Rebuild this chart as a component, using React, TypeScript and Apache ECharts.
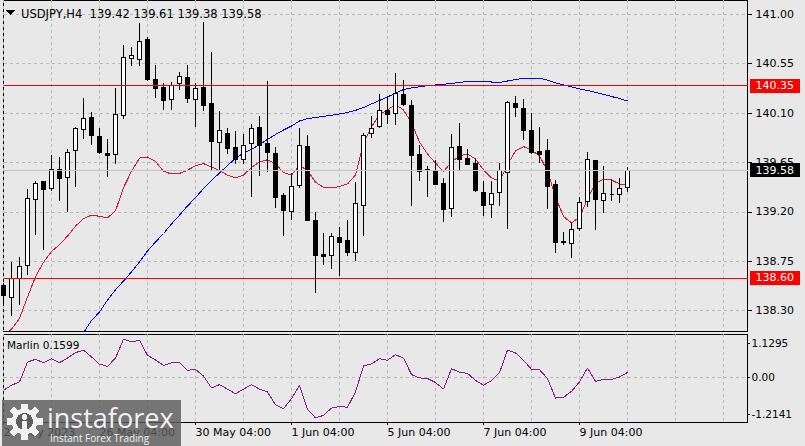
import React, { useEffect, useRef } from "react";
import * as echarts from "echarts";

const FONT = "DejaVu Sans";

const headerText = "USDJPY,H4  139.42 139.61 139.38 139.58";
const indicatorText = "Marlin 0.1599";

// [open, close, low, high]
const candles: number[][] = [
  [138.525, 138.44, 138.37, 138.55],
  [138.42, 138.595, 138.25, 138.746],
  [138.589, 138.7, 138.35, 138.79],
  [138.716, 139.324, 138.625, 139.406],
  [139.315, 139.46, 138.99, 139.484],
  [139.473, 139.406, 138.853, 139.484],
  [139.415, 139.588, 139.393, 139.718],
  [139.582, 139.502, 139.3, 139.7],
  [139.515, 139.743, 139.2, 139.77],
  [139.755, 139.955, 139.424, 139.976],
  [139.946, 140.053, 139.861, 140.24],
  [140.062, 139.898, 139.807, 140.113],
  [139.889, 139.739, 139.725, 139.962],
  [139.736, 139.712, 139.515, 139.864],
  [139.725, 140.089, 139.634, 140.329],
  [140.076, 140.608, 140.044, 140.72],
  [140.6, 140.62, 140.53, 140.705],
  [140.59, 140.75, 140.53, 140.923],
  [140.766, 140.41, 140.395, 140.79],
  [140.408, 140.326, 140.235, 140.538],
  [140.335, 140.219, 140.128, 140.371],
  [140.226, 140.347, 140.128, 140.386],
  [140.365, 140.432, 140.31, 140.477],
  [140.426, 140.235, 140.19, 140.538],
  [140.228, 140.326, 139.976, 140.377],
  [140.335, 140.167, 140.122, 140.933],
  [140.183, 139.843, 139.58, 140.66],
  [139.834, 139.937, 139.582, 140.119],
  [139.916, 139.779, 139.727, 139.962],
  [139.788, 139.679, 139.636, 139.937],
  [139.673, 139.803, 139.634, 139.909],
  [139.825, 139.962, 139.333, 140.0],
  [139.971, 139.807, 139.527, 140.074],
  [139.825, 139.739, 139.566, 140.392],
  [139.734, 139.333, 139.238, 139.788],
  [139.345, 139.211, 138.983, 139.369],
  [139.202, 139.43, 139.126, 139.557],
  [139.436, 139.807, 139.42, 139.962],
  [139.8, 139.126, 139.12, 139.898],
  [139.126, 138.801, 138.464, 139.196],
  [138.816, 138.792, 138.716, 139.005],
  [138.801, 138.98, 138.68, 139.005],
  [138.971, 138.919, 138.616, 139.065],
  [138.935, 138.832, 138.8, 139.126],
  [138.828, 139.272, 138.753, 139.472],
  [139.257, 139.898, 138.983, 139.921],
  [139.91, 139.962, 139.876, 140.074],
  [139.976, 140.128, 139.962, 140.271],
  [140.119, 140.089, 139.998, 140.249],
  [140.098, 140.28, 139.992, 140.463],
  [140.271, 140.18, 140.167, 140.4],
  [140.167, 139.712, 139.257, 140.219],
  [139.725, 139.566, 139.484, 139.81],
  [139.585, 139.58, 139.339, 139.618],
  [139.573, 139.451, 139.445, 139.673],
  [139.46, 139.224, 139.111, 139.506],
  [139.233, 139.788, 139.156, 139.909],
  [139.8, 139.673, 139.582, 140.007],
  [139.682, 139.634, 139.627, 139.77],
  [139.643, 139.393, 139.381, 139.688],
  [139.379, 139.257, 139.165, 139.484],
  [139.263, 139.37, 139.142, 139.484],
  [139.379, 139.573, 139.257, 139.643],
  [139.561, 140.198, 139.041, 140.213],
  [140.189, 140.149, 140.067, 140.256],
  [140.144, 139.94, 139.855, 140.226],
  [139.937, 139.739, 139.725, 140.098],
  [139.748, 139.727, 139.643, 139.976],
  [139.758, 139.43, 139.226, 139.861],
  [139.445, 138.92, 138.823, 139.491],
  [138.93, 138.925, 138.896, 139.02],
  [138.914, 139.042, 138.783, 139.096],
  [139.051, 139.287, 139.026, 139.339],
  [139.293, 139.673, 139.247, 139.743],
  [139.664, 139.315, 139.035, 139.673],
  [139.308, 139.37, 139.187, 139.618],
  [139.36, 139.36, 139.302, 139.497],
  [139.354, 139.415, 139.284, 139.506],
  [139.42, 139.58, 139.38, 139.61],
];

const maFast: number[] = [
  138.08, 138.13, 138.23, 138.425, 138.61, 138.74, 138.84, 138.9, 138.98, 139.07,
  139.14, 139.17, 139.16, 139.145, 139.21, 139.42, 139.57, 139.69, 139.7, 139.66,
  139.57, 139.545, 139.55, 139.58, 139.62, 139.64, 139.61, 139.575, 139.535, 139.51,
  139.535, 139.605, 139.655, 139.675, 139.64, 139.557, 139.536, 139.62, 139.58, 139.47,
  139.424, 139.42, 139.43, 139.455, 139.536, 139.83, 139.973, 140.09, 140.128, 140.18,
  140.128, 140.01, 139.837, 139.727, 139.645, 139.566, 139.655, 139.71, 139.727, 139.682,
  139.582, 139.51, 139.48, 139.63, 139.755, 139.795, 139.764, 139.71, 139.573, 139.336,
  139.158, 139.1, 139.15, 139.318, 139.46, 139.497, 139.49, 139.455, 139.445,
];

const maSlow: (number | null)[] = [
  null, null, null, null, null, null, null, null, null, null,
  138.1, 138.21, 138.288, 138.397, 138.49, 138.57, 138.653, 138.744, 138.844, 138.926,
  139.003, 139.09, 139.17, 139.254, 139.33, 139.413, 139.486, 139.554, 139.623, 139.686,
  139.737, 139.768, 139.814, 139.86, 139.905, 139.946, 139.982, 140.028, 140.05, 140.06,
  140.07, 140.08, 140.092, 140.105, 140.125, 140.15, 140.183, 140.215, 140.247, 140.279,
  140.315, 140.329, 140.34, 140.35, 140.356, 140.362, 140.37, 140.379, 140.388, 140.392,
  140.39, 140.383, 140.379, 140.392, 140.406, 140.417, 140.418, 140.417, 140.4, 140.374,
  140.356, 140.338, 140.32, 140.306, 140.288, 140.27, 140.251, 140.233, 140.21,
];

const marlin: number[] = [
  -0.43, -0.26, -0.15, 0.5, 0.59, 0.48, 0.61, 0.48, 0.63, 0.81,
  0.89, 0.67, 0.43, 0.36, 0.63, 1.25, 1.16, 1.21, 0.72, 0.57,
  0.39, 0.47, 0.48, 0.23, 0.26, 0.04, -0.35, -0.24, -0.39, -0.54,
  -0.39, -0.24, -0.39, -0.48, -0.9, -1.03, -0.7, -0.26, -1.05, -1.33,
  -1.25, -1.01, -0.96, -0.98, -0.48, 0.37, 0.44, 0.61, 0.56, 0.74,
  0.63, 0.09, -0.02, -0.04, -0.17, -0.39, 0.28, 0.17, 0.13, -0.1,
  -0.26, -0.11, 0.15, 0.89, 0.8, 0.56, 0.26, 0.25, -0.04, -0.68,
  -0.66, -0.46, -0.15, 0.31, -0.13, -0.07, -0.07, 0.01, 0.1599,
];

const levelPrices = [140.35, 138.6];
const bidPrice = 139.58;
const priceTicks = [138.3, 138.75, 139.2, 139.65, 140.1, 140.55, 141.0];
const marlinTicks = [1.1295, 0, -1.2141];
const marlinTickLabels = ["1.1295", "0.00", "-1.2141"];
const marlinZeroLevel = 0;
const timeTickLabels: [number, string][] = [
  [0, "24 May 2023"],
  [12, "26 May 04:00"],
  [24, "30 May 04:00"],
  [36, "1 Jun 04:00"],
  [48, "5 Jun 04:00"],
  [60, "7 Jun 04:00"],
  [72, "9 Jun 04:00"],
];
const emptySlots = 15;

const MON = ["Jan", "Feb", "Mar", "Apr", "May", "Jun", "Jul", "Aug", "Sep", "Oct", "Nov", "Dec"];
function buildTimes(n: number): string[] {
  const out: string[] = [];
  let t = Date.UTC(2023, 4, 24, 4);
  while (out.length < n) {
    const d = new Date(t);
    const wd = d.getUTCDay();
    if (wd !== 0 && wd !== 6) {
      out.push(`${d.getUTCDate()} ${MON[d.getUTCMonth()]} ${String(d.getUTCHours()).padStart(2, "0")}:00`);
    }
    t += 4 * 3600 * 1000;
  }
  return out;
}

const GRID_COLOR = "#b9b9b9";
const MARLIN_MIN = -1.466;
const MARLIN_MAX = 1.42;

export default function App() {
  const ref = useRef<HTMLDivElement | null>(null);
  useEffect(() => {
    if (!ref.current) return;
    const chart = echarts.init(ref.current, null, { renderer: "svg" });
    const times = buildTimes(candles.length + emptySlots);
    const labelMap = new Map<number, string>(timeTickLabels);
    const tickInterval = (i: number) => labelMap.has(i);
    const splitStyle = { color: GRID_COLOR, width: 1, type: [3, 3] };

    const boxLabel = (text: string, bg: string) => ({
      show: true,
      position: "end",
      distance: 2,
      formatter: text,
      color: "#fff",
      backgroundColor: bg,
      padding: [1, 6, 1, 6],
      fontSize: 11,
      lineHeight: 12,
      fontFamily: FONT,
    });

    const option: any = {
      animation: false,
      backgroundColor: "#e8e8e8",
      textStyle: { fontFamily: FONT },
      grid: [
        { left: 3.5, right: 57.5, top: 0, height: 331, show: true, borderColor: "#000", borderWidth: 1, containLabel: false, outerBoundsMode: "none" },
        { left: 3.5, right: 57.5, top: 334, height: 88, show: true, borderColor: "#000", borderWidth: 1, containLabel: false, outerBoundsMode: "none" },
      ],
      xAxis: [
        {
          type: "category", gridIndex: 0, data: times, boundaryGap: false,
          axisLine: { show: false, onZero: false }, axisTick: { show: false }, axisLabel: { show: false },
          splitLine: { show: true, interval: 5, lineStyle: splitStyle },
        },
        {
          type: "category", gridIndex: 1, data: times, boundaryGap: false, position: "bottom",
          axisLine: { show: true, onZero: false, lineStyle: { color: "#000", width: 1 } },
          axisTick: { show: true, interval: tickInterval, length: 3, lineStyle: { color: "#000" } },
          axisLabel: {
            show: true, interval: tickInterval, align: "left", margin: 5,
            fontSize: 11, color: "#000", fontFamily: FONT,
            formatter: (v: string, i: number) => labelMap.get(i) ?? v,
          },
          splitLine: { show: true, interval: 5, lineStyle: splitStyle },
        },
      ],
      yAxis: [
        {
          type: "value", gridIndex: 0, position: "right", min: 138.115, max: 141.13, scale: true,
          axisLine: { show: true, onZero: false, lineStyle: { color: "#000", width: 1 } },
          axisTick: { show: true, length: 4, customValues: priceTicks, lineStyle: { color: "#000" } },
          axisLabel: {
            show: true, customValues: priceTicks, margin: 8, fontSize: 11, color: "#000", fontFamily: FONT,
            formatter: (v: number) => v.toFixed(2),
          },
          splitLine: { show: true, lineStyle: splitStyle },
        },
        {
          type: "value", gridIndex: 1, position: "right", min: MARLIN_MIN, max: MARLIN_MAX,
          axisLine: { show: true, onZero: false, lineStyle: { color: "#000", width: 1 } },
          axisTick: { show: true, length: 2, customValues: marlinTicks, lineStyle: { color: "#000" } },
          axisLabel: {
            show: true, customValues: marlinTicks, margin: 4, fontSize: 10.5, color: "#000", fontFamily: FONT,
            formatter: (v: number) => {
              let best = 0;
              marlinTicks.forEach((t, k) => { if (Math.abs(t - v) < Math.abs(marlinTicks[best] - v)) best = k; });
              return marlinTickLabels[best];
            },
          },
          splitLine: { show: false },
        },
      ],
      series: [
        {
          type: "line", xAxisIndex: 1, yAxisIndex: 1, data: times.map(() => marlinZeroLevel),
          showSymbol: false, symbol: "none", silent: true, z: 1,
          lineStyle: { color: GRID_COLOR, width: 1, type: [3, 3] },
        },
        {
          type: "line", xAxisIndex: 0, yAxisIndex: 0, data: maSlow, showSymbol: false, symbol: "none",
          lineStyle: { color: "#0000ff", width: 1 }, silent: true, z: 2,
        },
        {
          type: "line", xAxisIndex: 0, yAxisIndex: 0, data: maFast, showSymbol: false, symbol: "none",
          lineStyle: { color: "#dc143c", width: 1 }, silent: true, z: 2,
        },
        {
          type: "candlestick", xAxisIndex: 0, yAxisIndex: 0, data: candles, barWidth: 4, silent: true, z: 3,
          itemStyle: { color: "#ffffff", color0: "#000000", borderColor: "#000000", borderColor0: "#000000", borderColorDoji: "#000000", borderWidth: 1 },
          markLine: {
            silent: true, symbol: ["none", "none"], animation: false,
            data: [
              ...levelPrices.map((p) => ({
                yAxis: p,
                lineStyle: { color: "#ff0000", width: 1, type: "solid" },
                label: boxLabel(p.toFixed(2), "#ff0000"),
              })),
              {
                yAxis: bidPrice,
                lineStyle: { color: "#c4c4c4", width: 1, type: "solid" },
                label: boxLabel(bidPrice.toFixed(2), "#000000"),
              },
            ],
          },
        },
        {
          type: "line", xAxisIndex: 1, yAxisIndex: 1, data: marlin, showSymbol: false, symbol: "none",
          color: "#8b1a8b",
          lineStyle: { color: "#8b1a8b", width: 1 }, silent: true, z: 3,
        },
      ],
      graphic: [
        { type: "polygon", shape: { points: [[6, 10], [15, 10], [10.5, 15]] }, style: { fill: "#000" }, z: 50 },
        { type: "text", x: 21, y: 13.5, z: 50, style: { text: headerText, font: `11.5px "${FONT}"`, fill: "#000", verticalAlign: "middle" } },
        { type: "text", x: 7, y: 345, z: 50, style: { text: indicatorText, font: `10.5px "${FONT}"`, fill: "#000", verticalAlign: "middle" } },
        {
          type: "group", z: 100,
          children: [
            { type: "rect", shape: { x: 2, y: 400, width: 179, height: 46 }, style: { fill: "rgba(92,92,92,0.82)" }, z: 100 },
            {
              type: "group", x: 24.5, y: 421.5, z: 101,
              children: [
                ...[0, 1, 2, 3, 4, 5, 6, 7].map((k) => ({
                  type: "rect", rotation: (k * Math.PI) / 4, shape: { x: -3.5, y: -18, width: 7, height: 8 }, style: { fill: "#f2f2f2" }, z: 101,
                })),
                { type: "circle", shape: { cx: 0, cy: 0, r: 13 }, style: { fill: "#f2f2f2" }, z: 101 },
                { type: "circle", shape: { cx: 0, cy: 0, r: 8.5 }, style: { fill: "#5e5e5e" }, z: 102 },
                { type: "circle", shape: { cx: 0, cy: -4.5, r: 3 }, style: { fill: "#f2f2f2" }, z: 103 },
                { type: "rect", shape: { x: -2.5, y: -0.5, width: 5, height: 10 }, style: { fill: "#f2f2f2" }, z: 103 },
              ],
            },
            { type: "text", x: 47, y: 417, z: 102, style: { text: "instaforex", font: `27px "Open Sans"`, fill: "#f2f2f2", verticalAlign: "middle" } },
            { type: "text", x: 50, y: 438, z: 102, style: { text: "Instant Forex Trading", font: `10px "Open Sans"`, fill: "#f2f2f2", verticalAlign: "middle" } },
          ],
        },
      ],
    };
    chart.setOption(option);
    return () => chart.dispose();
  }, []);
  return (
    <>
      <style>{".mtchart svg path { shape-rendering: crispEdges; }"}</style>
      <div
        ref={ref}
        className="mtchart"
        style={{ position: "fixed", left: 0, top: 0, width: 805, height: 446, background: "#e8e8e8" }}
      />
    </>
  );
}
